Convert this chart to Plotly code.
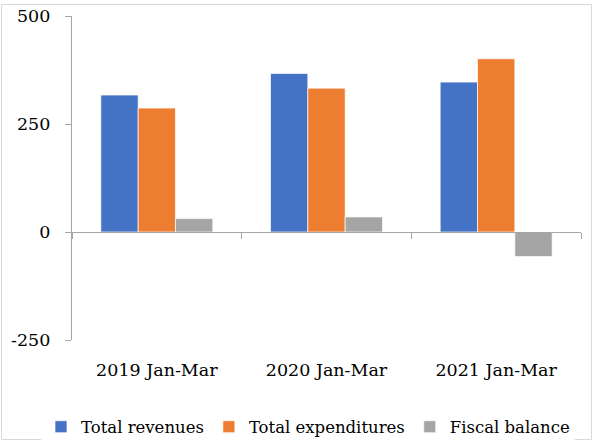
import plotly.graph_objects as go

categories = ["2019 Jan-Mar", "2020 Jan-Mar", "2021 Jan-Mar"]
total_revenues = [317, 367, 347]
total_expenditures = [287, 333, 401]
fiscal_balance = [31, 35, -57]
y_ticks = [-250, 0, 250, 500]
y_tick_labels = ["-250", "0", "250", "500"]

FONT = "DejaVu Serif"
W, H = 593, 441
L, R, T, B = 72, 12, 16, 101

fig = go.Figure()
for name, vals, col in [
    ("Total revenues", total_revenues, "#4472C4"),
    ("Total expenditures", total_expenditures, "#ED7D31"),
    ("Fiscal balance", fiscal_balance, "#A5A5A5"),
]:
    fig.add_trace(go.Bar(name=name, x=categories, y=vals,
                         marker=dict(color=col, line=dict(color="white", width=0.7))))

pw = W - L - R
ph = H - T - B
fig.update_layout(
    width=W, height=H,
    margin=dict(l=L, r=R, t=T, b=B, autoexpand=False),
    paper_bgcolor="white", plot_bgcolor="white",
    barmode="group", bargap=0.34, bargroupgap=0,
    font=dict(family=FONT, size=17, color="#000000"),
    xaxis=dict(type="category", anchor="free",
               position=(0 - y_ticks[0]) / (y_ticks[-1] - y_ticks[0]),
               showline=True, linecolor="#a6a6a6", linewidth=1.3,
               ticks="outside", ticklen=6, tickcolor="#a6a6a6", tickwidth=1.3,
               tickson="boundaries", showgrid=False, zeroline=False,
               ticklabelstandoff=122, tickfont=dict(size=17.5), automargin=False),
    yaxis=dict(range=[y_ticks[0], y_ticks[-1]], tickvals=y_ticks,
               ticktext=y_tick_labels,
               showline=True, linecolor="#a6a6a6", linewidth=1.3,
               ticks="outside", ticklen=6, tickcolor="#a6a6a6", tickwidth=1.3,
               showgrid=False, zeroline=False, ticklabelstandoff=11,
               tickfont=dict(size=17.5), automargin=False),
    legend=dict(orientation="h", xref="paper", yref="paper",
                x=(41 - L) / pw, xanchor="left",
                y=(T + ph - 427) / ph, yanchor="middle",
                font=dict(size=16.5), itemclick=False, itemwidth=30,
                tracegroupgap=0),
    shapes=[dict(type="rect", xref="paper", yref="paper",
                 x0=(1.5 - L) / pw, x1=(591.5 - L) / pw,
                 y0=(T + ph - 439.5) / ph, y1=(T + ph - 4.5) / ph,
                 line=dict(color="#d9d9d9", width=1), fillcolor="rgba(0,0,0,0)",
                 layer="below")],
)

fig.write_html("out.html", config={"displayModeBar": False},
               post_script="document.body.style.margin='0';")
